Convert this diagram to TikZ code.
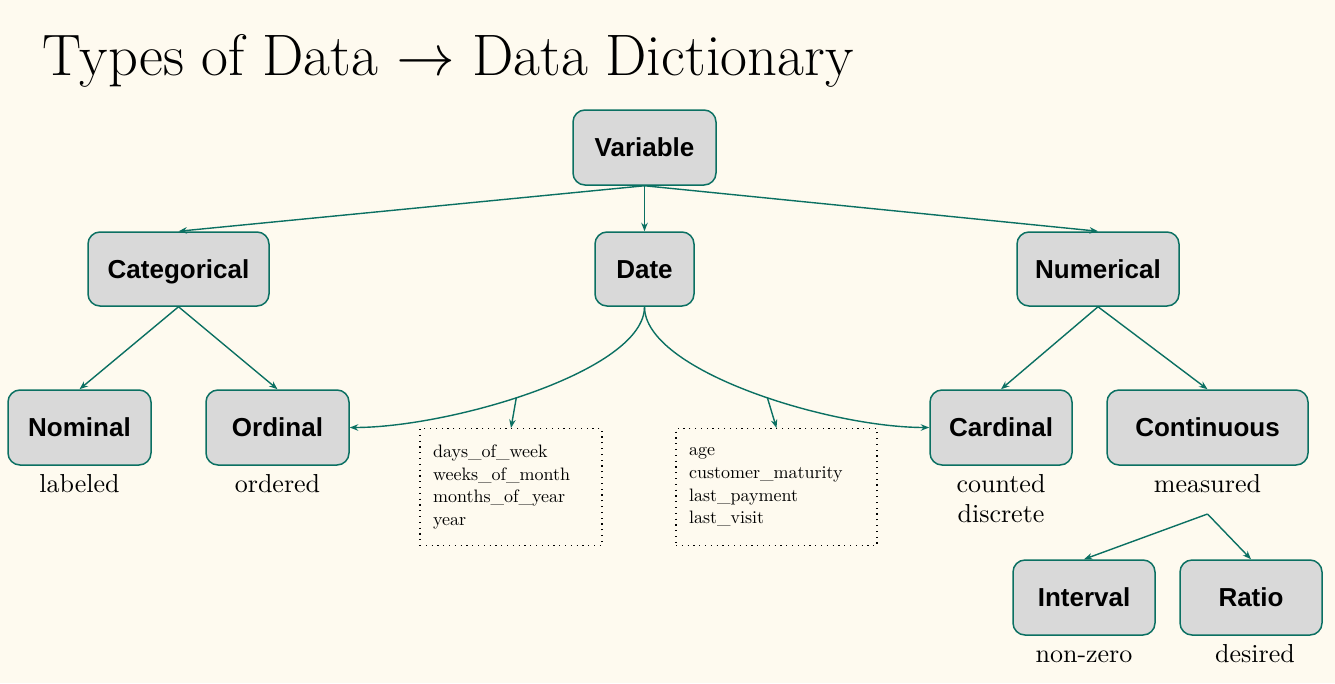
\documentclass[tikz,border=0pt]{standalone}
\usepackage{fontspec}
\usepackage{unicode-math}
\setmathfont{latinmodern-math.otf}
\newfontfamily\boxfont{Liberation Sans}
\newfontfamily\lmten{lmroman10-regular.otf}
\usetikzlibrary{arrows.meta}
\definecolor{bg}{HTML}{FEFAEF}
\definecolor{tealline}{HTML}{0B7062}
\definecolor{boxfill}{HTML}{D9D9D9}
\tikzset{
  catbox/.style={draw=tealline, fill=boxfill, line width=1.5pt, rounded corners=12pt,
    minimum height=75pt, inner sep=0pt, text height=18.7pt, text depth=0pt,
    font=\boxfont\bfseries\fontsize{26}{30}\selectfont},
  conn/.style={draw=tealline, line width=1.4pt, -{Stealth[length=8.5pt,width=6.5pt]}},
  desc/.style={font=\lmten\fontsize{26}{30}\selectfont, anchor=base, inner sep=0pt},
  listbox/.style={draw=black, dash pattern=on 1.2pt off 4.6pt, line width=1.2pt,
    minimum height=117pt, align=left, inner xsep=13pt, inner ysep=0pt, anchor=north,
    font=\lmten\fontsize{18}{22.7}\selectfont}
}
\begin{document}
\begin{tikzpicture}[x=1pt,y=-1pt]
\fill[bg] (0,0) rectangle (1335,683);
\useasboundingbox (0,0) rectangle (1335,683);

\node[anchor=base west, inner sep=0pt, font=\fontsize{58.5}{68}\selectfont] (title) at (42,75) {Types of Data $\rightarrow$ Data Dictionary};

\node[catbox, minimum width=143pt] (var) at (644.5,147.5) {Variable};
\node[catbox, minimum width=181pt, minimum height=74pt] (cat) at (178.5,269) {Categorical};
\node[catbox, minimum width=99pt, minimum height=74pt] (date) at (644.5,269) {Date};
\node[catbox, minimum width=162pt, minimum height=74pt] (num) at (1098,269) {Numerical};
\node[catbox, minimum width=143pt] (nom) at (79.5,427.5) {Nominal};
\node[catbox, minimum width=143pt] (ord) at (277.5,427.5) {Ordinal};
\node[catbox, minimum width=142pt] (card) at (1001,427.5) {Cardinal};
\node[catbox, minimum width=201pt] (cont) at (1207.5,427.5) {Continuous};
\node[catbox, minimum width=142pt] (intv) at (1084,597.5) {Interval};
\node[catbox, minimum width=142pt] (ratio) at (1251,597.5) {Ratio};

\node[desc] (nomL) at (79.5,492) {labeled};
\node[desc] (ordL) at (277.5,492) {ordered};
\node[desc] (cardL1) at (1001,492) {counted};
\node[desc] (cardL2) at (1001,522) {discrete};
\node[desc] (contL) at (1207.5,492) {measured};
\node[desc] (intvL) at (1084,662) {non-zero};
\node[desc] (ratioL) at (1255,662) {desired};

\node[listbox, text width=156pt] (dlist) at (511,428) {days\_of\_week\\weeks\_of\_month\\months\_of\_year\\year};
\node[listbox, text width=175pt] (nlist) at (776.5,428) {age\\customer\_maturity\\last\_payment\\last\_visit};

\draw[conn] (var.south) -- (cat.north);
\draw[conn] (var.south) -- (date.north);
\draw[conn] (var.south) -- (num.north);
\draw[conn] (cat.south) -- (nom.north);
\draw[conn] (cat.south) -- (ord.north);
\draw[conn] (num.south) -- (card.north);
\draw[conn] (num.south) -- (cont.north);
\draw[conn] (date.south) .. controls +(0,64) and +(101,0) .. (ord.east) coordinate[pos=0.55] (pinL);
\draw[conn] (date.south) .. controls +(0,64) and +(-100,0) .. (card.west) coordinate[pos=0.55] (pinR);
\draw[conn] (pinL) -- (dlist.north);
\draw[conn] (pinR) -- (nlist.north);
\coordinate (split) at (1207.5,514);
\draw[conn] (split) -- (intv.north);
\draw[conn] (split) -- (ratio.north);
\end{tikzpicture}
\end{document}
